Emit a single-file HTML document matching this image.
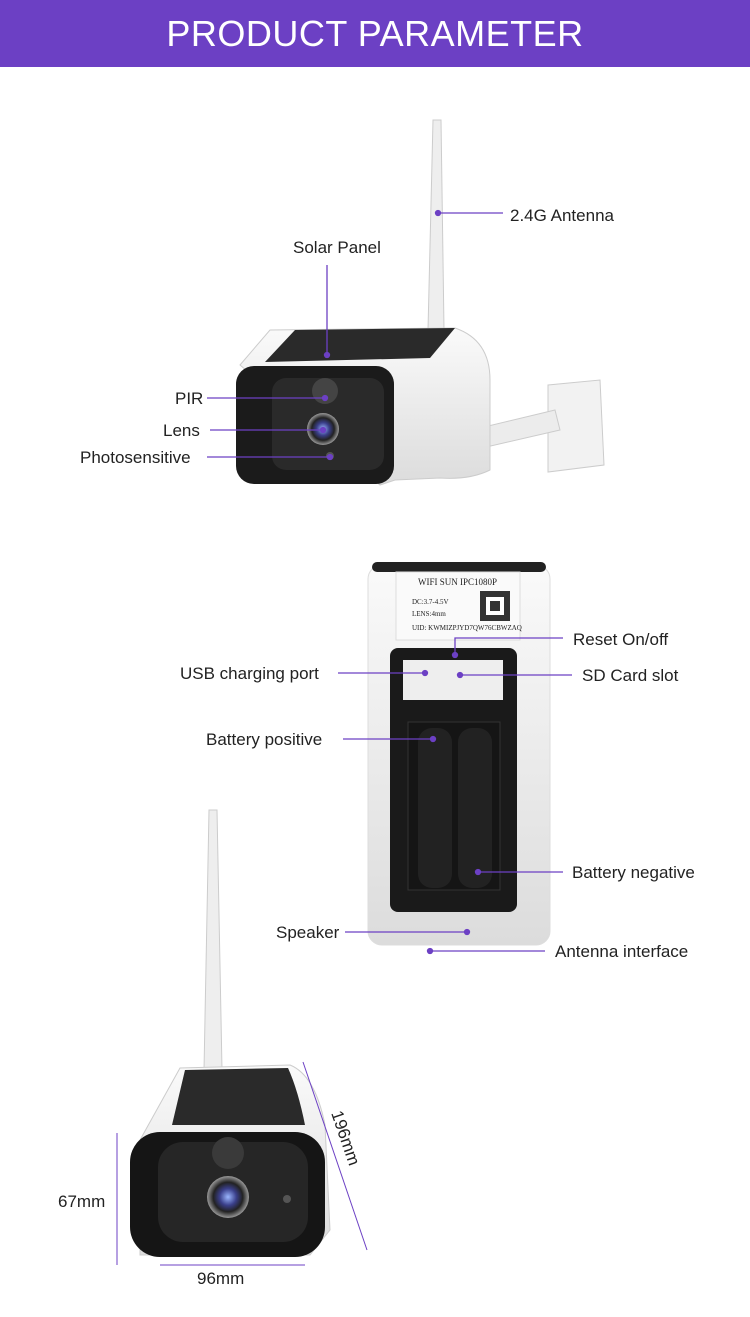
<!DOCTYPE html>
<html><head><meta charset="utf-8">
<style>
html,body{margin:0;padding:0;background:#fff;}
body{width:750px;height:1317px;overflow:hidden;position:relative;font-family:"Liberation Sans",sans-serif;}
.hdr{position:absolute;left:0;top:0;width:750px;height:67px;background:#6c40c4;color:#fff;font-size:36px;line-height:67px;text-align:center;letter-spacing:0.5px;}
svg{position:absolute;left:0;top:0;}
text{font-family:"Liberation Sans",sans-serif;font-size:17px;fill:#222;}
</style></head><body>
<div class="hdr">PRODUCT PARAMETER</div>
<svg width="750" height="1317" viewBox="0 0 750 1317">
<defs>
<linearGradient id="wg" x1="0" y1="0" x2="0" y2="1"><stop offset="0" stop-color="#fafafa"/><stop offset="1" stop-color="#dcdcdc"/></linearGradient>
<radialGradient id="lens" cx="0.5" cy="0.5" r="0.5"><stop offset="0" stop-color="#9bb7ff"/><stop offset="0.4" stop-color="#3a3f8a"/><stop offset="0.7" stop-color="#222"/><stop offset="1" stop-color="#999"/></radialGradient>
</defs>
<path d="M433 120 L441 120 L444 330 L428 330 Z" fill="#eee" stroke="#ccc"/>
<path d="M548 385 L600 380 L604 465 L548 472 Z" fill="#f2f2f2" stroke="#ccc"/>
<path d="M430 440 L555 410 L560 430 L430 460 Z" fill="#ececec" stroke="#ccc"/>
<path d="M240 365 L270 330 L455 328 Q490 340 490 380 L490 470 Q470 480 440 478 L395 480 L380 485 Z" fill="url(#wg)" stroke="#ccc"/>
<path d="M265 362 L295 330 L455 328 L430 358 Z" fill="#2a2a2a"/>
<rect x="236" y="366" width="158" height="118" rx="18" fill="#1b1b1b"/>
<rect x="272" y="378" width="112" height="92" rx="14" fill="#2a2a2a"/>
<circle cx="325" cy="391" r="13" fill="#444"/>
<circle cx="323" cy="429" r="16" fill="url(#lens)"/>
<circle cx="330" cy="456" r="4" fill="#555"/>
<g stroke="#6c40c4" stroke-width="1.3" fill="#6c40c4">
<line x1="438" y1="213" x2="503" y2="213"/><circle cx="438" cy="213" r="2.5"/>
<line x1="327" y1="265" x2="327" y2="355"/><circle cx="327" cy="355" r="2.5"/>
<line x1="207" y1="398" x2="325" y2="398"/><circle cx="325" cy="398" r="2.5"/>
<line x1="210" y1="430" x2="323" y2="430"/><circle cx="323" cy="430" r="2.5"/>
<line x1="207" y1="457" x2="330" y2="457"/><circle cx="330" cy="457" r="2.5"/>
</g>
<text x="510" y="221">2.4G Antenna</text>
<text x="293" y="253">Solar Panel</text>
<text x="175" y="404">PIR</text>
<text x="163" y="436">Lens</text>
<text x="80" y="463">Photosensitive</text>
<rect x="368" y="565" width="182" height="380" rx="14" fill="url(#wg)" stroke="#ddd"/>
<rect x="372" y="562" width="174" height="10" rx="5" fill="#222"/>
<rect x="396" y="572" width="124" height="68" fill="#fafafa" stroke="#ddd"/>
<text x="418" y="585" style="font-size:9px;font-family:'Liberation Serif',serif">WIFI SUN IPC1080P</text>
<text x="412" y="604" style="font-size:7px;font-family:'Liberation Serif',serif">DC:3.7-4.5V</text>
<text x="412" y="616" style="font-size:7px;font-family:'Liberation Serif',serif">LENS:4mm</text>
<text x="412" y="630" style="font-size:7px;font-family:'Liberation Serif',serif">UID: KWMIZPJYD7QW76CBWZAQ</text>
<rect x="480" y="591" width="30" height="30" fill="#333"/><rect x="486" y="597" width="18" height="18" fill="#fff"/><rect x="490" y="601" width="10" height="10" fill="#333"/>
<rect x="390" y="648" width="127" height="264" rx="8" fill="#1a1a1a"/>
<rect x="403" y="660" width="100" height="40" fill="#eee"/>
<rect x="408" y="722" width="92" height="168" fill="#151515" stroke="#333"/>
<rect x="418" y="728" width="34" height="160" rx="14" fill="#222"/>
<rect x="458" y="728" width="34" height="160" rx="14" fill="#222"/>
<g stroke="#6c40c4" stroke-width="1.3" fill="#6c40c4">
<polyline points="455,655 455,638 563,638" fill="none"/><circle cx="455" cy="655" r="2.5"/>
<line x1="338" y1="673" x2="425" y2="673"/><circle cx="425" cy="673" r="2.5"/>
<line x1="460" y1="675" x2="572" y2="675"/><circle cx="460" cy="675" r="2.5"/>
<line x1="343" y1="739" x2="433" y2="739"/><circle cx="433" cy="739" r="2.5"/>
<line x1="478" y1="872" x2="563" y2="872"/><circle cx="478" cy="872" r="2.5"/>
<line x1="345" y1="932" x2="467" y2="932"/><circle cx="467" cy="932" r="2.5"/>
<line x1="430" y1="951" x2="545" y2="951"/><circle cx="430" cy="951" r="2.5"/>
</g>
<text x="573" y="645">Reset On/off</text>
<text x="180" y="679">USB charging port</text>
<text x="582" y="681">SD Card slot</text>
<text x="206" y="745">Battery positive</text>
<text x="572" y="878">Battery negative</text>
<text x="276" y="938">Speaker</text>
<text x="555" y="957">Antenna interface</text>
<path d="M209 810 L217 810 L222 1070 L204 1070 Z" fill="#eee" stroke="#ccc"/>
<path d="M140 1140 L180 1068 L290 1065 Q315 1075 325 1125 L330 1230 L310 1255 L140 1255 Z" fill="url(#wg)" stroke="#ccc"/>
<path d="M172 1125 L185 1070 L288 1068 Q298 1090 305 1125 Z" fill="#2a2a2a"/>
<rect x="130" y="1132" width="195" height="125" rx="30" fill="#151515"/>
<rect x="158" y="1142" width="150" height="100" rx="25" fill="#262626"/>
<circle cx="228" cy="1153" r="16" fill="#3a3a3a"/>
<circle cx="228" cy="1197" r="21" fill="url(#lens)"/>
<circle cx="287" cy="1199" r="4" fill="#555"/>
<g stroke="#6c40c4" stroke-width="1">
<line x1="117" y1="1133" x2="117" y2="1265"/>
<line x1="160" y1="1265" x2="305" y2="1265"/>
<line x1="303" y1="1062" x2="367" y2="1250"/>
</g>
<text x="58" y="1207">67mm</text>
<text x="197" y="1284">96mm</text>
<text x="0" y="0" transform="translate(331,1113) rotate(71)">196mm</text>
</svg>
</body></html>
